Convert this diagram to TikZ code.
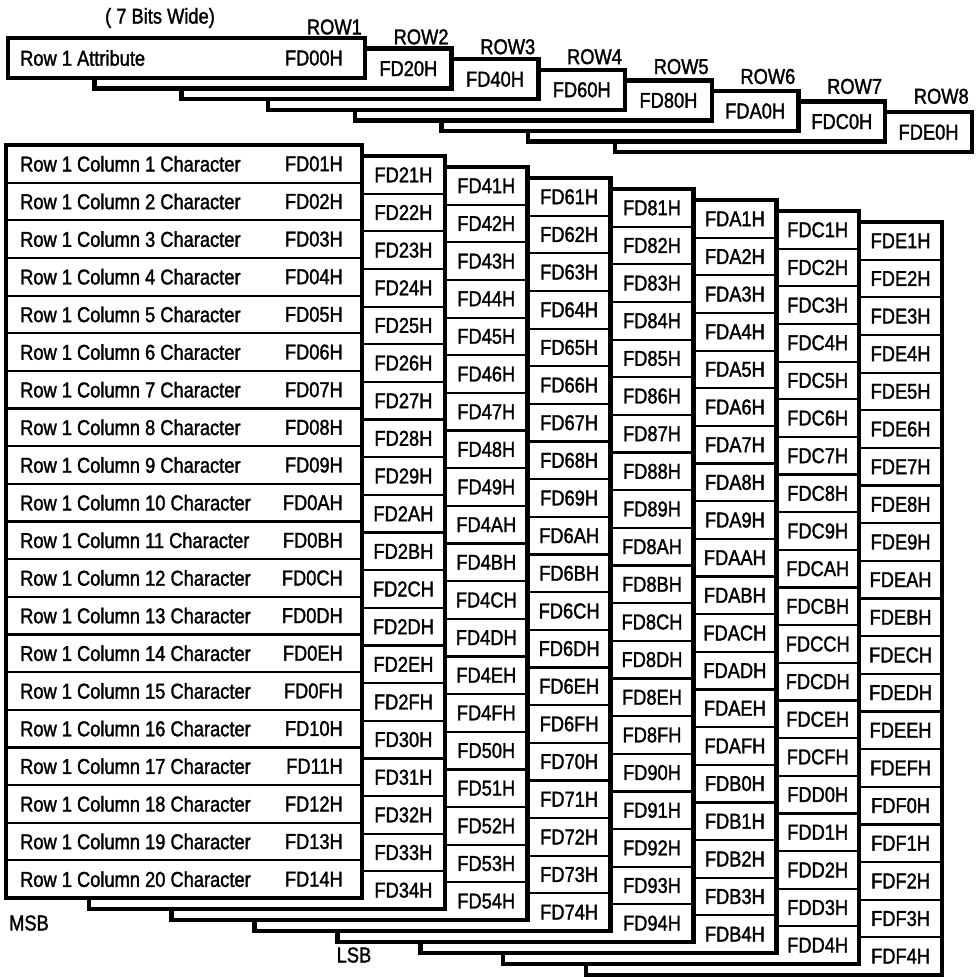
\documentclass[tikz,border=0pt]{standalone}
\usepackage{fontspec}
\setmainfont{Liberation Sans}[FakeStretch=0.85,FakeBold=1.5]
\newcommand\hexd[1]{\ifcase#1 0\or 1\or 2\or 3\or 4\or 5\or 6\or 7\or 8\or 9\or A\or B\or C\or D\or E\or F\fi}
\begin{document}
\begin{tikzpicture}[x=1pt,y=-1pt,
  every node/.style={font=\fontsize{21.5}{24}\selectfont, inner sep=0pt},
  sheet/.style={draw=black, line width=4.5pt},
  rowline/.style={draw=black, line width=2.2pt}]
\useasboundingbox (0,0) rectangle (978,977);

% ---- top: row attribute strips ----
\foreach \k in {8,7,...,1} {
  \pgfmathsetmacro\L{8+86.7*(\k-1)}
  \pgfmathsetmacro\T{38+10.6*(\k-1)}
  \pgfmathsetmacro\R{\L+357}
  \pgfmathsetmacro\B{\T+40}
  \pgfmathsetmacro\PR{\R-86.7}
  \pgfmathsetmacro\MY{(\T+\B)/2}
  \pgfmathsetmacro\MX{(\PR+\R)/2}
  \pgfmathsetmacro\LY{27+9.9*(\k-1)}
  \pgfmathtruncatemacro\hi{2*(\k-1)}
  \fill[white] (\L,\T) rectangle (\R,\B);
  \draw[sheet] (\L,\T) rectangle (\R,\B);
  \node[anchor=east] (rowlbl\k) at (\R-3,\LY) {ROW\k};
  \ifnum\k>1
    \node (attr\k) at (\MX,\MY) {FD\hexd{\hi}0H};
  \fi
}
\node[anchor=west] (attrtxt) at (20,58) {Row 1 Attribute};
\node[anchor=east] (attr1) at (343,58) {FD00H};
\node (bits) at (160,18) {( 7 Bits Wide)};

% ---- main: character pages ----
\foreach \k in {8,7,...,1} {
  \pgfmathsetmacro\L{6+82.86*(\k-1)}
  \pgfmathsetmacro\T{145+11*(\k-1)}
  \pgfmathsetmacro\R{\L+356}
  \pgfmathsetmacro\B{\T+753}
  \pgfmathsetmacro\PR{\R-82.86}
  \pgfmathsetmacro\MX{(\PR+\R)/2}
  \fill[white] (\L,\T) rectangle (\R,\B);
  \foreach \j in {1,...,19} {
    \pgfmathsetmacro\Y{\T+\j*37.65}
    \draw[rowline] (\L,\Y) -- (\R,\Y);
  }
  \draw[sheet] (\L,\T) rectangle (\R,\B);
  \foreach \j in {1,...,20} {
    \pgfmathsetmacro\Y{\T+(\j-0.5)*37.65}
    \pgfmathtruncatemacro\n{32*(\k-1)+\j}
    \pgfmathtruncatemacro\hi{floor(\n/16)}
    \pgfmathtruncatemacro\lo{mod(\n,16)}
    \ifnum\k=1
      \node[anchor=west] (c\j) at (20,\Y) {Row 1 Column \j\ Character};
      \node[anchor=east] (p1x\j) at (\R-19,\Y) {FD\hexd{\hi}\hexd{\lo}H};
    \else
      \node (p\k x\j) at (\MX,\Y) {FD\hexd{\hi}\hexd{\lo}H};
    \fi
  }
}
\node (msb) at (29,923) {MSB};
\node (lsb) at (354,955) {LSB};
\end{tikzpicture}
\end{document}
